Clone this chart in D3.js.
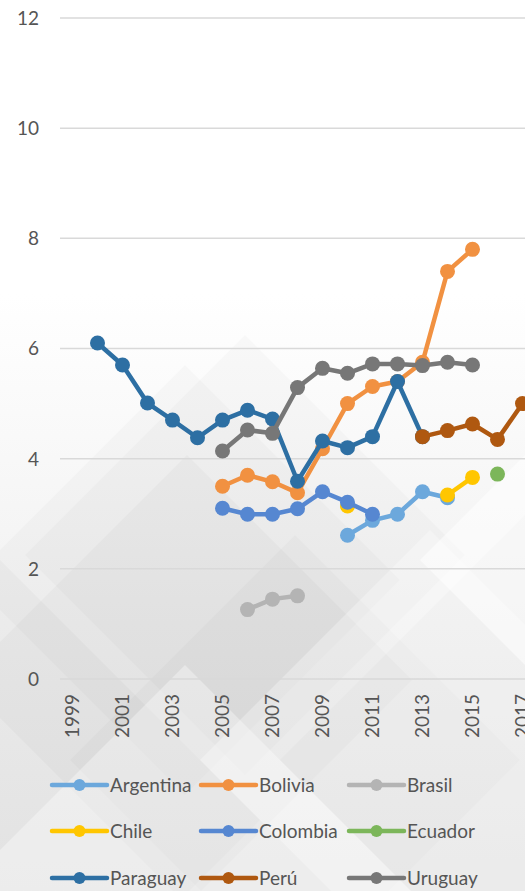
<!DOCTYPE html>
<html>
<head>
<meta charset="utf-8">
<script src="https://cdn.jsdelivr.net/npm/d3@7"></script>
<style>
  body { margin: 0; background: #fff; }
  svg { display: block; font-family: Lato, "Open Sans", sans-serif; }
</style>
</head>
<body>
<div id="grafico"></div>
<script>
// anos no eixo x (o gráfico original está cortado à direita)
var anos = d3.range(1999, 2019);
var ticksY = [0, 2, 4, 6, 8, 10, 12];
var paises = ["Argentina", "Bolivia", "Brasil", "Chile", "Colombia", "Ecuador", "Paraguay", "Perú", "Uruguay"];
var cores = ["#6ca8dc", "#f19141", "#b4b4b4", "#ffc600", "#5687d1", "#7cb65a", "#2d6fa3", "#af5810", "#777777"];

// valores por país: [ano, valor] (null = sem dado)
var argentina = [[2010, 2.61], [2011, 2.88], [2012, 2.99], [2013, 3.40], [2014, 3.29]];
var bolivia = [[2005, 3.50], [2006, 3.70], [2007, 3.58], [2008, 3.38], [2009, 4.18], [2010, 5.00], [2011, 5.31], [2012, 5.40], [2013, 5.75], [2014, 7.40], [2015, 7.80]];
var brasil = [[2006, 1.26], [2007, 1.45], [2008, 1.51]];
var chile = [[2010, 3.14], [2011, null], [2012, null], [2013, null], [2014, 3.34], [2015, 3.66]];
var colombia = [[2005, 3.10], [2006, 2.99], [2007, 2.99], [2008, 3.09], [2009, 3.40], [2010, 3.21], [2011, 2.99]];
var ecuador = [[2016, 3.72]];
var paraguay = [[2000, 6.10], [2001, 5.70], [2002, 5.01], [2003, 4.70], [2004, 4.38], [2005, 4.70], [2006, 4.88], [2007, 4.72], [2008, 3.59], [2009, 4.32], [2010, 4.20], [2011, 4.40], [2012, 5.40], [2013, 4.40]];
var peru = [[2013, 4.40], [2014, 4.51], [2015, 4.63], [2016, 4.35], [2017, 5.00]];
var uruguay = [[2005, 4.14], [2006, 4.52], [2007, 4.46], [2008, 5.29], [2009, 5.64], [2010, 5.55], [2011, 5.72], [2012, 5.72], [2013, 5.69], [2014, 5.75], [2015, 5.70]];

var series = [argentina, bolivia, brasil, chile, colombia, ecuador, paraguay, peru, uruguay];

var width = 525,
    height = 891;

var svg = d3.select("#grafico").append("svg")
    .attr("width", width)
    .attr("height", height);

// fundo decorativo (losangos cinzentos)
var defs = svg.append("defs");
var grad = defs.append("linearGradient")
    .attr("id", "fundo")
    .attr("x1", 0).attr("y1", 0).attr("x2", 0).attr("y2", 1);
grad.append("stop").attr("offset", "0.33").attr("stop-color", "#ffffff");
grad.append("stop").attr("offset", "0.7").attr("stop-color", "#f1f1f1");
grad.append("stop").attr("offset", "1").attr("stop-color", "#e8e8e8");

svg.append("rect")
    .attr("width", width)
    .attr("height", height)
    .attr("fill", "url(#fundo)");

var losangos = [
  {cx: 245, cy: 555, r: 220, cor: "#000", op: 0.018},
  {cx: 185, cy: 580, r: 215, cor: "#000", op: 0.018},
  {cx: 187, cy: 680, r: 225, cor: "#000", op: 0.022},
  {cx: 295, cy: 760, r: 225, cor: "#000", op: 0.02},
  {cx: 580, cy: 760, r: 300, cor: "#000", op: 0.025},
  {cx: -40, cy: 820, r: 300, cor: "#000", op: 0.025},
  {cx: 185, cy: 900, r: 235, cor: "#fff", op: 0.35},
  {cx: 430, cy: 760, r: 230, cor: "#fff", op: 0.3},
  {cx: 660, cy: 560, r: 240, cor: "#fff", op: 0.5}
];
svg.append("g").attr("class", "decoracao")
  .selectAll("polygon")
  .data(losangos)
  .enter().append("polygon")
    .attr("points", function(d) {
      return [[d.cx, d.cy - d.r], [d.cx + d.r, d.cy], [d.cx, d.cy + d.r], [d.cx - d.r, d.cy]].join(" ");
    })
    .attr("fill", function(d) { return d.cor; })
    .attr("opacity", function(d) { return d.op; });

var x = d3.scaleBand()
    .domain(anos)
    .range([60, 560]);

var y = d3.scaleLinear()
    .domain([0, 12])
    .range([679, 18]);

function cx(ano) { return x(ano) + x.bandwidth() / 2; }

// linhas de grade
svg.append("g").attr("class", "grade")
  .selectAll("line")
  .data(ticksY)
  .enter().append("line")
    .attr("x1", 60)
    .attr("x2", 560)
    .attr("y1", function(d) { return y(d); })
    .attr("y2", function(d) { return y(d); })
    .attr("stroke", "#d9d9d9")
    .attr("stroke-width", 1.5);

svg.append("g").attr("class", "eixo-y")
  .selectAll("text")
  .data(ticksY)
  .enter().append("text")
    .attr("x", 39)
    .attr("y", function(d) { return y(d); })
    .attr("dy", "0.36em")
    .attr("text-anchor", "end")
    .attr("font-size", 19)
    .attr("fill", "#555")
    .text(function(d) { return d; });

svg.append("g").attr("class", "eixo-x")
  .selectAll("text")
  .data(anos.filter(function(a) { return a % 2 == 1; }))
  .enter().append("text")
    .attr("transform", function(d) { return "translate(" + cx(d) + ",694) rotate(-90)"; })
    .attr("dy", "0.36em")
    .attr("text-anchor", "end")
    .attr("font-size", 19)
    .attr("fill", "#555")
    .text(function(d) { return d; });

var linha = d3.line()
    .defined(function(d) { return d[1] != null; })
    .x(function(d) { return cx(d[0]); })
    .y(function(d) { return y(d[1]); });

var grupos = svg.append("g").attr("class", "series")
  .selectAll("g")
  .data(series)
  .enter().append("g");

grupos.append("path")
    .attr("d", function(d) { return linha(d); })
    .attr("fill", "none")
    .attr("stroke", function(d, i) { return cores[i]; })
    .attr("stroke-width", 4.5)
    .attr("stroke-linejoin", "round");

grupos.selectAll("circle")
  .data(function(d, i) {
    return d.filter(function(p) { return p[1] != null; })
            .map(function(p) { return {p: p, cor: cores[i]}; });
  })
  .enter().append("circle")
    .attr("cx", function(d) { return cx(d.p[0]); })
    .attr("cy", function(d) { return y(d.p[1]); })
    .attr("r", 7.5)
    .attr("fill", function(d) { return d.cor; });

// legenda em 3 colunas
var colX = [52, 201, 349],
    linY = [785, 831, 878];

var legenda = svg.append("g").attr("class", "legenda")
  .selectAll("g")
  .data(paises)
  .enter().append("g")
    .attr("transform", function(d, i) { return "translate(" + colX[i % 3] + "," + linY[Math.floor(i / 3)] + ")"; });

legenda.append("line")
    .attr("x1", 0).attr("x2", 55)
    .attr("stroke", function(d, i) { return cores[i]; })
    .attr("stroke-width", 4.5)
    .attr("stroke-linecap", "round");

legenda.append("circle")
    .attr("cx", 27.5)
    .attr("r", 6)
    .attr("fill", function(d, i) { return cores[i]; });

legenda.append("text")
    .attr("x", 58)
    .attr("dy", "0.36em")
    .attr("font-size", 19)
    .attr("fill", "#555")
    .text(function(d) { return d; });
</script>
</body>
</html>
